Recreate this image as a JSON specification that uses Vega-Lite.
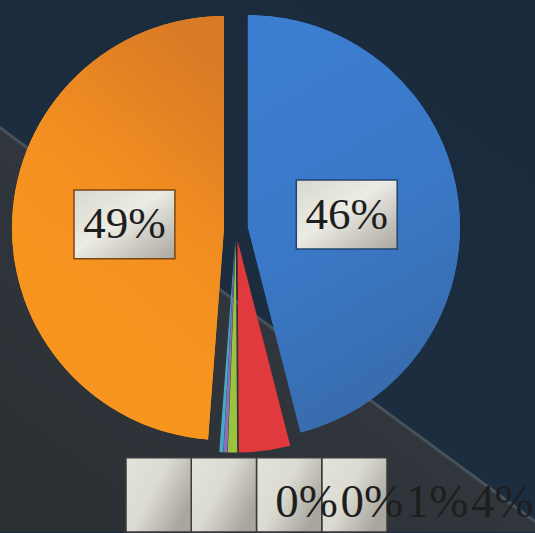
{
  "$schema": "https://vega.github.io/schema/vega-lite/v6.json",
  "width": 535,
  "height": 533,
  "padding": 0,
  "autosize": {"type": "fit", "contains": "padding"},
  "background": "#1b2b3e",
  "config": {"view": {"stroke": null}},
  "data": {
    "values": [
      {"name": "Cat 1", "share": 0.460},
      {"name": "Cat 2", "share": 0.039},
      {"name": "Cat 3", "share": 0.007},
      {"name": "Cat 4", "share": 0.003},
      {"name": "Cat 5", "share": 0.003},
      {"name": "Cat 6", "share": 0.488}
    ]
  },
  "layer": [
    {
      "data": {"values": [{}]},
      "mark": {
        "type": "rect",
        "fill": {
          "gradient": "linear", "x1": 0.87, "y1": 0, "x2": 0.13, "y2": 1,
          "stops": [
            {"offset": 0, "color": "#1a2a3d"},
            {"offset": 0.568, "color": "#1c2d40"},
            {"offset": 0.5705, "color": "#4f5a64"},
            {"offset": 0.575, "color": "#30363b"},
            {"offset": 1, "color": "#2b3035"}
          ]
        }
      },
      "encoding": {}
    },
    {
      "transform": [
        {"stack": "share", "groupby": [], "as": ["s0", "s1"]},
        {"calculate": "(datum.s0 + datum.s1) * PI", "as": "mid"},
        {"calculate": "0.0566 * sin(datum.mid)", "as": "cx"},
        {"calculate": "-0.0566 * cos(datum.mid)", "as": "cy"},
        {"calculate": "datum.cx + 0.47 * sin(datum.mid)", "as": "lx"},
        {"calculate": "datum.cy - 0.47 * cos(datum.mid)", "as": "ly"},
        {"calculate": "datum.lx - 0.238", "as": "lx0"},
        {"calculate": "datum.lx + 0.238", "as": "lx1"},
        {"calculate": "datum.ly - 0.163", "as": "ly0"},
        {"calculate": "datum.ly + 0.163", "as": "ly1"}
      ],
      "resolve": {"scale": {"x": "independent"}},
      "layer": [
        {
          "mark": {"type": "arc", "outerRadius": 212},
          "encoding": {
            "theta": {"field": "s0", "type": "quantitative", "scale": {"domain": [0, 1], "range": [0, 6.283185]}},
            "theta2": {"field": "s1"},
            "x": {"field": "cx", "type": "quantitative", "scale": {"domain": [-1.1132, 1.4104], "nice": false, "zero": false}, "axis": null},
            "y": {"field": "cy", "type": "quantitative", "scale": {"domain": [-1.0802, 1.4340], "nice": false, "zero": false, "reverse": true}, "axis": null},
            "fill": {"field": "name", "type": "nominal", "scale": {"domain": ["Cat 1", "Cat 2", "Cat 3", "Cat 4", "Cat 5", "Cat 6"], "range": ["#3a78c8", "#e03a3e", "#9bc43e", "#8a70b8", "#48a8c8", "#f7921f"]}, "legend": null}
          }
        },
        {
          "transform": [{"filter": "datum.name === 'Cat 1'"}],
          "mark": {"type": "arc", "outerRadius": 212, "fill": {"gradient": "linear", "x1": 0, "y1": 0, "x2": 0.3, "y2": 1, "stops": [{"offset": 0, "color": "#3c7fd2"}, {"offset": 0.6, "color": "#3a78c6"}, {"offset": 1, "color": "#386cae"}]}},
          "encoding": {
            "theta": {"field": "s0", "type": "quantitative", "scale": {"domain": [0, 1], "range": [0, 6.283185]}},
            "theta2": {"field": "s1"},
            "x": {"field": "cx", "type": "quantitative", "scale": {"domain": [-1.1132, 1.4104], "nice": false, "zero": false}, "axis": null},
            "y": {"field": "cy", "type": "quantitative", "axis": null}
          }
        },
        {
          "transform": [{"filter": "datum.name === 'Cat 6'"}],
          "mark": {"type": "arc", "outerRadius": 212, "fill": {"gradient": "linear", "x1": 0.7, "y1": 0, "x2": 0.4, "y2": 0.7, "stops": [{"offset": 0, "color": "#d97a26"}, {"offset": 0.6, "color": "#f38f20"}, {"offset": 1, "color": "#f8951f"}]}},
          "encoding": {
            "theta": {"field": "s0", "type": "quantitative", "scale": {"domain": [0, 1], "range": [0, 6.283185]}},
            "theta2": {"field": "s1"},
            "x": {"field": "cx", "type": "quantitative", "scale": {"domain": [-1.1132, 1.4104], "nice": false, "zero": false}, "axis": null},
            "y": {"field": "cy", "type": "quantitative", "axis": null}
          }
        },
        {
          "transform": [{"filter": "datum.share >= 0.05"}],
          "mark": {"type": "rect", "strokeWidth": 1.5, "fill": {"gradient": "linear", "x1": 0, "y1": 0, "x2": 1, "y2": 1, "stops": [{"offset": 0, "color": "#d9d8d0"}, {"offset": 0.45, "color": "#ecebe4"}, {"offset": 1, "color": "#a9a79f"}]}},
          "encoding": {
            "x": {"field": "lx0", "type": "quantitative", "scale": {"domain": [-1.1132, 1.4104], "nice": false, "zero": false}, "axis": null},
            "x2": {"field": "lx1"},
            "y": {"field": "ly0", "type": "quantitative", "axis": null},
            "y2": {"field": "ly1"},
            "stroke": {"field": "name", "type": "nominal", "scale": {"domain": ["Cat 1", "Cat 6"], "range": ["#23446e", "#7a4612"]}, "legend": null}
          }
        },
        {
          "transform": [{"filter": "datum.share >= 0.05"}],
          "mark": {"type": "text", "font": "Liberation Serif", "fontSize": 45, "color": "#1e1e1e", "baseline": "middle", "align": "center"},
          "encoding": {
            "x": {"field": "lx", "type": "quantitative", "scale": {"domain": [-1.1132, 1.4104], "nice": false, "zero": false}, "axis": null},
            "y": {"field": "ly", "type": "quantitative", "axis": null},
            "text": {"field": "share", "type": "quantitative", "format": ".0%"}
          }
        },
        {
          "transform": [{"filter": "datum.share < 0.05"}],
          "mark": {"type": "rect", "stroke": "#3c3c3a", "strokeWidth": 1.5, "fill": {"gradient": "linear", "x1": 0, "y1": 0, "x2": 1, "y2": 0.6, "stops": [{"offset": 0, "color": "#e4e3da"}, {"offset": 0.5, "color": "#dcdbd2"}, {"offset": 1, "color": "#a8a69e"}]}},
          "encoding": {
            "x": {"field": "name", "type": "nominal", "scale": {"type": "band", "domain": ["Cat 5", "Cat 4", "Cat 3", "Cat 2"], "range": [126, 387], "paddingInner": 0, "paddingOuter": 0}, "axis": null},
            "y": {"datum": 1.083, "type": "quantitative", "axis": null},
            "y2": {"datum": 1.434}
          }
        },
        {
          "transform": [{"filter": "datum.share < 0.05"}],
          "mark": {"type": "text", "font": "Liberation Serif", "fontSize": 47, "color": "#1e1e1e", "baseline": "alphabetic", "align": "center", "dx": 148},
          "encoding": {
            "x": {"field": "name", "type": "nominal", "scale": {"type": "band", "domain": ["Cat 5", "Cat 4", "Cat 3", "Cat 2"], "range": [126, 387], "paddingInner": 0, "paddingOuter": 0}, "axis": null},
            "y": {"datum": 1.363, "type": "quantitative", "axis": null},
            "text": {"field": "share", "type": "quantitative", "format": ".0%"}
          }
        }
      ]
    }
  ]
}
